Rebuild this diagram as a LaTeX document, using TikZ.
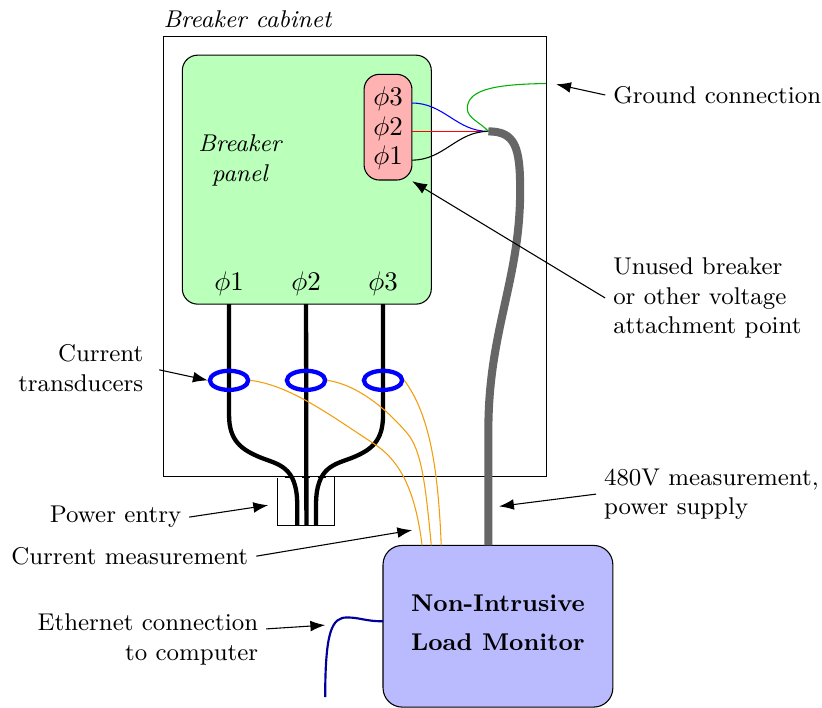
\documentclass[tikz,border=0pt]{standalone}
\usetikzlibrary{arrows.meta,positioning,shapes,calc}
\definecolor{panelgreen}{rgb}{.73,1,.73}
\definecolor{boxred}{rgb}{1,.7,.7}
\definecolor{boxblue}{rgb}{.73,.73,1}
\definecolor{wireorange}{rgb}{.95,.62,.05}
\definecolor{wiregreen}{rgb}{0,.7,0}
\begin{document}
\begin{tikzpicture}[x=.5cm,y=.5cm,every node/.style={font=\small},
  box node/.style={rectangle,draw,inner sep=0pt,outer sep=0pt},
  sensor node/.style={ellipse,draw=blue,ultra thick,inner sep=0pt,minimum width=.5cm,minimum height=.25cm},
  note node/.style={inner sep=3pt,outer sep=0pt},
  pointer/.style={-{Latex[length=5.5pt,width=4pt]}},
  phase wire/.style={ultra thick},
  sense wire/.style={wireorange}]
\useasboundingbox (-4.26,-6) rectangle (17.2,12.46);
% cabinet and boxes
\node[box node,minimum width=5cm,minimum height=5.75cm] (cabinet) at (5,5.76) {};
\node[box node,fill=panelgreen,rounded corners=.2cm,minimum width=3.25cm,minimum height=3.25cm] (panel) at (3.75,7.77) {};
\node[box node,fill=boxred,rounded corners=.2cm,minimum width=.625cm,minimum height=1.38cm] (tapbox) at (5.87,9.14) {};
\node[box node,minimum width=.75cm,minimum height=.625cm,anchor=south west] (entry) at (2.98,-1.25) {};
\node[box node,fill=boxblue,rounded corners=.25cm,minimum width=3cm,minimum height=2.11cm,anchor=south west] (nilm) at (5.74,-6) {};
\node[align=center,font=\small\bfseries,yshift=1.3pt] (nilmname) at (nilm.center) {Non-Intrusive\\[3.5pt]Load Monitor};
\draw[white,dashed] (entry.north west) -- (entry.north east);
\node[inner sep=0pt,anchor=south west,yshift=3pt,font=\small\itshape] (cabinetname) at (cabinet.north west) {Breaker cabinet};
\node[align=center,font=\small\itshape] (panelname) at (2.0,8.27) {Breaker\\panel};
\begin{scope}[every node/.style={inner sep=0pt}]
\node (t3) at (5.87,9.87) {$\phi3$};
\node (t2) at (5.87,9.11) {$\phi2$};
\node (t1) at (5.87,8.35) {$\phi1$};
\node (p1) at (1.72,5.05) {$\phi1$};
\node (p2) at (3.73,5.05) {$\phi2$};
\node (p3) at (5.74,5.05) {$\phi3$};
\end{scope}
% wires to the panel
\coordinate (tap) at (8.49,9.03);
\coordinate (w3) at (6.5,9.77);
\coordinate (w1) at (6.5,8.28);
\coordinate (gnd) at (10,10.28);
\coordinate (bulge) at (7.94,9.63);
\draw[blue] (w3) to[out=0,in=180] (tap);
\draw[red] (tapbox.east |- tap) -- (tap);
\draw (w1) to[out=0,in=180] (tap);
\draw[wiregreen] (gnd) .. controls (8.8,10.26) and (7.94,10.16) .. (bulge) .. controls (7.94,9.37) and (8.28,9.27) .. (tap);
\draw[line width=3pt,black!60,line join=round] (tap) .. controls (9.2,9.03) and (9.32,8.6) .. (9.32,7.49) .. controls (9.32,5.14) and (8.49,3.84) .. (8.49,1.23) -- (nilm.north -| 8.49,0);
% the three phases
\coordinate (b1) at (3.5,-1.25);
\coordinate (b2) at (3.74,-1.25);
\coordinate (b3) at (3.99,-1.25);
\draw[phase wire] (p1 |- panel.south) -- (1.72,1.62) .. controls (1.72,.95) and (2.05,.72) .. (2.53,.52) .. controls (3.0,.33) and (3.5,.3) .. (3.5,-.73) -- (b1);
\draw[phase wire] (p2 |- panel.south) -- (b2);
\draw[phase wire] (p3 |- panel.south) -- (5.74,1.62) .. controls (5.74,.95) and (5.44,.72) .. (4.96,.52) .. controls (4.49,.33) and (3.99,.3) .. (3.99,-.73) -- (b3);
\node[sensor node] (ct1) at (1.72,2.53) {};
\node[sensor node] (ct2) at (3.73,2.53) {};
\node[sensor node] (ct3) at (5.74,2.53) {};
\draw[sense wire] (ct1.east) .. controls (3.32,2.4) and (4.36,1.62) .. (5.48,.89) .. controls (6.19,.44) and (6.58,-.34) .. (nilm.north -| 6.76,0);
\draw[sense wire] (ct2.east) .. controls (5.14,2.4) and (5.9,1.7) .. (6.37,1.15) .. controls (6.75,.7) and (6.85,-.2) .. (nilm.north -| 7,0);
\draw[sense wire] (ct3.east) .. controls (6.97,1.62) and (7.18,.18) .. (nilm.north -| 7.26,0);
\coordinate (net) at (4.23,-5.74);
\draw[thick,blue!60!black] (nilm.west |- 0,-3.76) .. controls (5.27,-3.76) and (5.14,-3.66) .. (4.8,-3.66) .. controls (4.41,-3.66) and (4.23,-4) .. (net);
% notes and their pointers
\node[note node,anchor=west] (ground) at (11.54,9.98) {Ground connection};
\node[note node,anchor=west,align=left] (unused) at (11.54,4.68) {Unused breaker\\or other voltage\\attachment point};
\node[note node,anchor=west,align=left] (supply) at (11.3,-.44) {480V measurement,\\power supply};
\node[note node,anchor=east,align=right] (trans) at (-.31,2.85) {Current\\transducers};
\node[note node,anchor=east] (powerin) at (.68,-1.04) {Power entry};
\node[note node,anchor=east] (measure) at (2.43,-2.06) {Current measurement};
\node[note node,anchor=east,align=right] (ether) at (2.69,-4.24) {Ethernet connection\\to computer};
\coordinate (groundtip) at (10.26,10.26);
\coordinate (unusedtip) at (6.5,7.73);
\coordinate (supplytip) at (8.77,-.76);
\coordinate (powertip) at (2.74,-.73);
\coordinate (measuretip) at (6.5,-1.38);
\coordinate (ethertip) at (4.23,-3.86);
\draw[pointer] (ground.west) -- (groundtip);
\draw[pointer] (unused.west) -- (unusedtip);
\draw[pointer] (supply.west) -- (supplytip);
\draw[pointer,shorten <=3pt] (trans.east) -- (ct1.west);
\draw[pointer] (powerin.east) -- (powertip);
\draw[pointer] (measure.east) -- (measuretip);
\draw[pointer] ([yshift=4pt]ether.east) -- (ethertip);
\end{tikzpicture}
\end{document}
